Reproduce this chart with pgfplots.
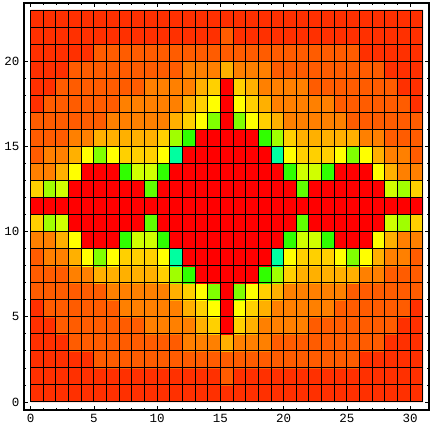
\documentclass[border=0pt]{standalone}
\usepackage{fontspec}
\setmainfont{Liberation Mono}
\usepackage{pgfplots}
\pgfplotsset{compat=1.18}
\begin{document}
\begin{tikzpicture}[x=1pt,y=1pt]
\useasboundingbox (0,0) rectangle (432,432);
\begin{axis}[
  at={(24pt,22pt)},anchor=south west,
  scale only axis,width=405pt,height=407pt,
  xmin=-0.53,xmax=31.49,ymin=-0.47,ymax=23.42,
  axis line style={line width=1.1pt,black},
  tick align=inside,tick pos=both,
  major tick length=3.5pt,minor tick length=2pt,
  tick style={black,line width=0.8pt},
  xtick={0,5,...,30},ytick={0,5,...,20},
  minor x tick num=4,minor y tick num=4,
  /pgf/number format/assume math mode=true,
  tick label style={font=\fontsize{12.5}{13}\selectfont},
  xticklabel pos=bottom,yticklabel pos=left,
  xticklabel style={yshift=-1pt},
  yticklabel style={xshift=-1pt},
  colormap={levels}{
    rgb255=(255,0,0) rgb255=(255,48,0) rgb255=(255,92,0) rgb255=(255,128,0)
    rgb255=(255,176,0) rgb255=(255,208,0) rgb255=(255,255,0) rgb255=(208,255,0)
    rgb255=(160,255,0) rgb255=(128,255,0) rgb255=(96,255,0) rgb255=(48,255,0)
    rgb255=(0,255,160)},
  colormap access=direct,
]
\addplot[matrix plot*,mesh/cols=31,mesh/rows=23,point meta=explicit]
 table[row sep=\\,header=false,meta index=0,
   x expr={mod(\coordindex,31)+0.5},y expr={floor((\coordindex+0.5)/31)+0.5}] {
1\\1\\1\\1\\1\\1\\1\\1\\1\\1\\1\\1\\1\\1\\1\\1\\1\\1\\1\\1\\1\\1\\1\\1\\1\\1\\1\\1\\1\\1\\1\\
1\\1\\1\\1\\1\\1\\1\\1\\1\\1\\1\\1\\1\\1\\1\\2\\1\\1\\1\\1\\1\\1\\1\\1\\1\\1\\1\\1\\1\\1\\1\\
1\\1\\1\\1\\1\\2\\2\\2\\2\\2\\2\\2\\2\\2\\2\\2\\2\\2\\2\\2\\2\\2\\2\\2\\2\\2\\1\\1\\1\\1\\1\\
1\\1\\1\\2\\2\\2\\2\\2\\2\\2\\2\\2\\3\\3\\3\\4\\3\\3\\3\\2\\2\\2\\2\\2\\2\\2\\2\\2\\1\\1\\1\\
1\\1\\2\\2\\2\\2\\2\\2\\2\\3\\3\\3\\3\\4\\5\\0\\5\\4\\3\\3\\3\\3\\2\\2\\2\\2\\2\\2\\2\\1\\1\\
1\\2\\2\\2\\2\\2\\2\\3\\3\\3\\3\\3\\4\\5\\6\\0\\6\\5\\4\\3\\3\\3\\3\\3\\2\\2\\2\\2\\2\\2\\1\\
2\\2\\2\\2\\2\\2\\3\\3\\3\\3\\3\\4\\5\\6\\9\\0\\9\\6\\5\\4\\3\\3\\3\\3\\3\\2\\2\\2\\2\\2\\2\\
2\\2\\2\\3\\3\\4\\4\\4\\4\\4\\5\\8\\11\\0\\0\\0\\0\\0\\11\\8\\5\\4\\4\\4\\4\\4\\3\\3\\2\\2\\2\\
2\\3\\3\\4\\6\\9\\6\\5\\5\\5\\6\\12\\0\\0\\0\\0\\0\\0\\0\\12\\6\\5\\5\\5\\6\\9\\6\\4\\3\\3\\2\\
3\\3\\4\\6\\0\\0\\0\\11\\7\\7\\11\\0\\0\\0\\0\\0\\0\\0\\0\\0\\11\\7\\7\\11\\0\\0\\0\\6\\4\\3\\3\\
5\\8\\7\\0\\0\\0\\0\\0\\0\\10\\0\\0\\0\\0\\0\\0\\0\\0\\0\\0\\0\\10\\0\\0\\0\\0\\0\\0\\7\\8\\5\\
0\\0\\0\\0\\0\\0\\0\\0\\0\\0\\0\\0\\0\\0\\0\\0\\0\\0\\0\\0\\0\\0\\0\\0\\0\\0\\0\\0\\0\\0\\0\\
5\\8\\7\\0\\0\\0\\0\\0\\0\\10\\0\\0\\0\\0\\0\\0\\0\\0\\0\\0\\0\\10\\0\\0\\0\\0\\0\\0\\7\\8\\5\\
3\\3\\4\\6\\0\\0\\0\\11\\7\\7\\11\\0\\0\\0\\0\\0\\0\\0\\0\\0\\11\\7\\7\\11\\0\\0\\0\\6\\4\\3\\3\\
2\\3\\3\\4\\6\\9\\6\\5\\5\\5\\6\\12\\0\\0\\0\\0\\0\\0\\0\\12\\6\\5\\5\\5\\6\\9\\6\\4\\3\\3\\2\\
2\\2\\2\\3\\3\\4\\4\\4\\4\\4\\5\\8\\11\\0\\0\\0\\0\\0\\11\\8\\5\\4\\4\\4\\4\\4\\3\\3\\2\\2\\2\\
2\\2\\2\\2\\2\\2\\3\\3\\3\\3\\3\\4\\5\\6\\9\\0\\9\\6\\5\\4\\3\\3\\3\\3\\3\\2\\2\\2\\2\\2\\2\\
1\\2\\2\\2\\2\\2\\2\\3\\3\\3\\3\\3\\4\\5\\6\\0\\6\\5\\4\\3\\3\\3\\3\\3\\2\\2\\2\\2\\2\\2\\1\\
1\\1\\2\\2\\2\\2\\2\\2\\2\\3\\3\\3\\3\\4\\5\\0\\5\\4\\3\\3\\3\\3\\2\\2\\2\\2\\2\\2\\2\\1\\1\\
1\\1\\1\\2\\2\\2\\2\\2\\2\\2\\2\\2\\3\\3\\3\\4\\3\\3\\3\\2\\2\\2\\2\\2\\2\\2\\2\\2\\1\\1\\1\\
1\\1\\1\\1\\1\\2\\2\\2\\2\\2\\2\\2\\2\\2\\2\\2\\2\\2\\2\\2\\2\\2\\2\\2\\2\\2\\1\\1\\1\\1\\1\\
1\\1\\1\\1\\1\\1\\1\\1\\1\\1\\1\\1\\1\\1\\1\\2\\1\\1\\1\\1\\1\\1\\1\\1\\1\\1\\1\\1\\1\\1\\1\\
1\\1\\1\\1\\1\\1\\1\\1\\1\\1\\1\\1\\1\\1\\1\\1\\1\\1\\1\\1\\1\\1\\1\\1\\1\\1\\1\\1\\1\\1\\1\\
};
\addplot[black,line width=1pt,no markers,forget plot,line cap=rect,unbounded coords=jump] coordinates {
(0,0)(0,23)(nan,nan)(1,0)(1,23)(nan,nan)(2,0)(2,23)(nan,nan)(3,0)(3,23)(nan,nan)
(4,0)(4,23)(nan,nan)(5,0)(5,23)(nan,nan)(6,0)(6,23)(nan,nan)(7,0)(7,23)(nan,nan)
(8,0)(8,23)(nan,nan)(9,0)(9,23)(nan,nan)(10,0)(10,23)(nan,nan)(11,0)(11,23)(nan,nan)
(12,0)(12,23)(nan,nan)(13,0)(13,23)(nan,nan)(14,0)(14,23)(nan,nan)(15,0)(15,23)(nan,nan)
(16,0)(16,23)(nan,nan)(17,0)(17,23)(nan,nan)(18,0)(18,23)(nan,nan)(19,0)(19,23)(nan,nan)
(20,0)(20,23)(nan,nan)(21,0)(21,23)(nan,nan)(22,0)(22,23)(nan,nan)(23,0)(23,23)(nan,nan)
(24,0)(24,23)(nan,nan)(25,0)(25,23)(nan,nan)(26,0)(26,23)(nan,nan)(27,0)(27,23)(nan,nan)
(28,0)(28,23)(nan,nan)(29,0)(29,23)(nan,nan)(30,0)(30,23)(nan,nan)(31,0)(31,23)(nan,nan)
(0,0)(31,0)(nan,nan)(0,1)(31,1)(nan,nan)(0,2)(31,2)(nan,nan)(0,3)(31,3)(nan,nan)
(0,4)(31,4)(nan,nan)(0,5)(31,5)(nan,nan)(0,6)(31,6)(nan,nan)(0,7)(31,7)(nan,nan)
(0,8)(31,8)(nan,nan)(0,9)(31,9)(nan,nan)(0,10)(31,10)(nan,nan)(0,11)(31,11)(nan,nan)
(0,12)(31,12)(nan,nan)(0,13)(31,13)(nan,nan)(0,14)(31,14)(nan,nan)(0,15)(31,15)(nan,nan)
(0,16)(31,16)(nan,nan)(0,17)(31,17)(nan,nan)(0,18)(31,18)(nan,nan)(0,19)(31,19)(nan,nan)
(0,20)(31,20)(nan,nan)(0,21)(31,21)(nan,nan)(0,22)(31,22)(nan,nan)(0,23)(31,23)
};
\end{axis}
\end{tikzpicture}
\end{document}
